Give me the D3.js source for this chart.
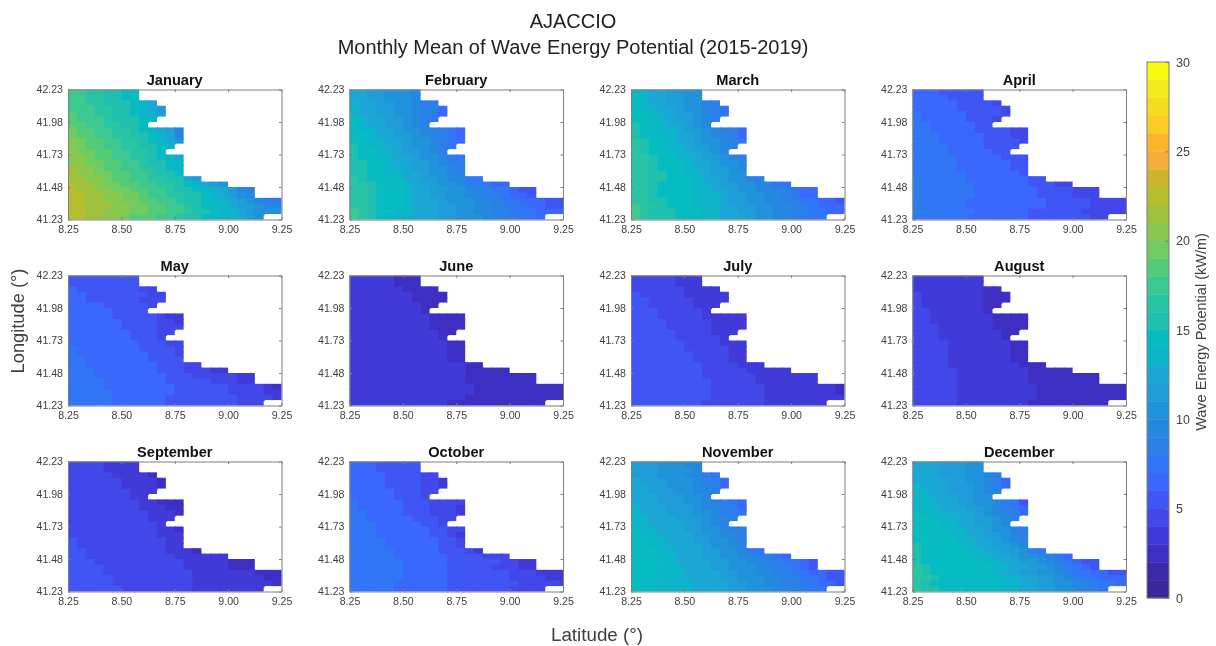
<!DOCTYPE html>
<html>
<head>
<meta charset="utf-8">
<title>AJACCIO wave energy</title>
<script src="https://cdnjs.cloudflare.com/ajax/libs/d3/7.8.5/d3.min.js"></script>
<style>
  html, body { margin: 0; padding: 0; background: #fff; }
  svg { display: block; filter: blur(0.4px); }
  text { font-family: "Liberation Sans", Arial, sans-serif; }
  .tick line, .domain { stroke: #7f7f7f; }
  .tick text { fill: #404040; font-size: 10.6px; }
</style>
</head>
<body>
<svg id="chart" width="1216" height="646"></svg>
<script>
var monthNames = ["January","February","March","April","May","June","July","August","September","October","November","December"];
var lonTicks = [8.25, 8.50, 8.75, 9.00, 9.25];
var latTicks = [41.23, 41.48, 41.73, 41.98, 42.23];
var barTicks = [0, 5, 10, 15, 20, 25, 30];

// 30 colourbar bands, 1 kW/m each from bottom to top
var bandColors = ["#3a289a","#3b29aa","#3e2fc4","#403ad8","#4147e8","#3f56f4","#3a68fc","#3076f6","#2b7fe8","#2488e0",
  "#2192dc","#1f9dd8","#1ba7d6","#0cb4c8","#06bcc0","#1fc0b0","#28c4a4","#3cc890","#52cc78","#70cc60",
  "#88c850","#a0c13c","#b6bd2e","#ccb52c","#f5ae3e","#fcb52a","#fbcb28","#f5dc20","#f3ea1c","#f8fa10"];

// each string is one row of cells, north to south, west to east.
// one base-36 character per cell = band in kW/m. row ends where the land starts.
var january = ["hhggffee","hhggffee","hhggfffedc","hhhggffedcb","ihhggffeddb","ihhhgfffed","iihhggffe","jiihhggfedcb9","jiihhggffedc9","kjiihhggfedca","kjiihhggffed","kjjiihhggfe","kkjiihhggfedc","kkjjiihhgffed","lkkjiihhggfed","lkkjjiihhgffe","llkkjiihhggffcb","mllkjjiihhggfedcba","mllkkjjiihhgffeddcb98","mmllkkjjihhggffedcba9","mmllkkjjiihhgffeddcba987","mmlllkkjjiihhgfeedcbba99","mmllkkkjjiihhgffeddcbaaa","mmllkkjiiihhgffeeddcba"];
var february = ["ccbbaaa9","ccbbaaa9","dccbbaa988","dccbbaa9886","dccbbaa9886","edccbba987","edccbba98","eddccbaa98876","eedccbba99876","eeddccbaa9876","feddccbaa987","feeddcbba98","feeddccbaa987","ffeedccbba988","ffeeddcbbaa98","ffeeddccbaa98","gfeeedccbba9977","ggfeeedccbaa988766","ggfeeedccbbaa98877655","ggfeeedccbbaa99887665","ggfeeedcccbaaa9987766655","ggfeeedcccbbaa9988776655","hgfeeddcccbbaa9988777666","hgfeeddcccbbaaa9988776"];
var march = ["ddccbbaa","edccbbaa","edccbbaa88","eddccbaa987","eedccbba987","eeddcbba98","feedccba9","feeddcbba9886","feeddccba9986","gfeedccbaa987","gfeeddcbba98","gfeeedccba9","ggfeeddcbba98","ggfeeedccbaa9","ggfeeedccbba9","ggffeeddcbbaa","ggffeeedccbaa88","ggfeeeeddcbbaa9877","ggfeeeeddccbaa9988766","ggfeeeedddcbbaa998766","ggffeeedddcbbaa998877665","hggfeeedddccbbaa99887666","hgfffeeeddccbbaa99887766","hgfffeeeddcccbaa998877"];
var april = ["66655555","66665555","6666655554","66666555554","76666655554","7666665554","776666655","7766666555544","7776666655544","7776666655554","777766665555","77776666655","7777766666555","7777766666655","7777766666655","7777776666665","877777666666655","877777766666655544","877777766666665555444","877777766666665555444","877777666666666555554444","877777666666666555554444","887777766666655555544444","7777776666666555555544"];
var may = ["55555555","55555555","6555555544","66555555544","66555555444","6666555554","666665555","6666655555433","6666665555443","6666665555444","666666655544","66666665554","6666666655544","7666666655554","7666666665554","7766666665555","776666666655544","777666666655544433","777666666665554444433","777766666665555544433","777766666666555555444432","777776666666555555444433","777776666665555555544443","7777766666655555555444"];
var june = ["33333222","33333222","3333332222","33333332222","33333332222","3333333322","333333332","3333333332222","3333333332222","3333333332222","333333333322","33333333332","3333333333322","3333333333322","3333333333322","3333333333322","333333333333322","333333333333322222","333333333333322222222","333333333333322222222","333333333333332222222222","333333333333332222222222","333333333333322222222222","3333333333322222222222"];
var july = ["44444333","44444333","4444443333","54444433333","55444443333","5544444333","555444443","5554444433333","5555444443333","5555444443333","555554444333","55555444443","5555554444333","5555554444433","5555555444433","5555555444433","555555554444333","555555554444433333","555555554444443333333","555555555444443333333","555555555444444333333332","555555555444444333333332","555555555444444333333333","5555555544444443333333"];
var august = ["33333333","33333333","3333333322","43333333222","43333333222","4333333322","443333332","4433333332222","4433333332222","4443333332222","444333333322","44433333332","4444333333322","4444333333322","4444333333322","4444333333322","444433333333222","444443333333322222","444443333333322222222","444443333333322222222","444443333333332222222222","444443333333332222222222","444443333333332222222222","4444433333333222222222"];
var september = ["44443333","44443333","4444433332","44444433332","44444433332","4444444333","444444433","4444444433222","4444444433322","4444444443332","444444444333","44444444443","4444444444332","4444444444333","5444444444433","5444444444433","554444444443332","554444444444333333","555444444444433333222","555544444444433333222","555544444444443333333222","555554444444443333333322","555554444444443333333332","5555554444444433333333"];
var october = ["66655555","66655555","6666555544","66665555443","66665555443","6666655544","666665554","7666665554444","7666665554443","7766665554443","776666655544","77766666554","7776666665544","7776666665543","7777666666554","7777666666554","777776666655543","777776666665555444","777777666665555554433","777777666665555544433","777777666665555555444333","777777666665555555444433","777776666665555555544444","7777766666655555554444"];
var november = ["bbbaaa99","bbbaaaa9","bbbaaa9987","cbbbaaa9886","ccbbaaa9886","ccbbbaa998","cccbbbaa9","cccbbbaa98876","dcccbbba99886","dcccbbbaa9887","ddcccbbba998","ddccccbba98","eddcccbbaa988","eddccccbba998","eeddcccbbaa98","eeddccccbaa99","eeeddcccbbaa977","eeeddcccbbaa998876","eeeddccccbbaa99887765","eeedddcccbbaaa9988765","eeedddccccbbaa9988776655","eeedddccccbbaaa998877655","eeeddddccccbbaa998877665","eeeddddccccbbaaa998877"];
var december = ["cccbbbaa","cccbbbaa","cccbbbaa98","ccccbbaa986","dcccbbba986","ddccbbba98","ddcccbbaa","dddccbbaa9875","dddcccbba9876","edddcccba9986","eedddccbba98","eeeddccbba9","eeedddccbaa88","eeeeddccbba98","eeeeeddccba98","feeeeddccbba9","feeeeeddccbba87","feeeeeeddccbaa9876","feeeeeeeddccbba987655","gfeeeeeeeddccbba98765","gfeeeeeeedccbbaa98776655","ggfeeeeeeeddccbba9877666","gfeeeeeeeeddccbbaa998776","gffeeeeeeeddccbbaa9887"];

var monthRows = [january, february, march, april, may, june, july, august, september, october, november, december];

var svg = d3.select("#chart");

var panelLefts = [68, 349.5, 631, 912.5];
var panelTops = [89.5, 275.5, 461.5];
var panelW = 213.5, panelH = 130;
var cellDeg = 1 / 24;

var color = d3.scaleQuantize().domain([0, 30]).range(bandColors);

monthNames.forEach(function(name, m) {
  var left = panelLefts[m % 4], top = panelTops[Math.floor(m / 4)];

  var x = d3.scaleLinear().domain([8.25, 9.25]).range([left, left + panelW]);
  var y = d3.scaleLinear().domain([41.23, 42.23]).range([top + panelH, top]);

  // flatten the row strings into cells
  var rows = monthRows[m], cells = [];
  rows.forEach(function(row, r) {
    row.split("").forEach(function(c, i) {
      cells.push({
        lon: 8.25 + i * cellDeg,
        lat: 42.23 - r * cellDeg,
        value: parseInt(c, 36) + 0.5,
        hasEast: i < row.length - 1,
        hasSouth: r < rows.length - 1 && i < rows[r + 1].length
      });
    });
  });

  var g = svg.append("g").attr("class", "panel");

  // cells run a bit under their east and south neighbours so no seams show
  g.selectAll("rect.cell")
    .data(cells)
    .enter()
    .append("rect")
    .attr("class", "cell")
    .attr("x", function(d) { return x(d.lon); })
    .attr("y", function(d) { return y(d.lat); })
    .attr("width", function(d) { return x(d.lon + cellDeg) - x(d.lon) + (d.hasEast ? 1 : 0); })
    .attr("height", function(d) { return y(d.lat - cellDeg) - y(d.lat) + (d.hasSouth ? 1 : 0); })
    .attr("fill", function(d) { return color(d.value); });

  // box with inward ticks on all four sides, labels only left and bottom
  g.append("g")
    .attr("transform", "translate(0," + (top + panelH) + ")")
    .call(d3.axisBottom(x).tickValues(lonTicks).tickFormat(d3.format(".2f")).tickSizeInner(-2.5).tickSizeOuter(0).tickPadding(6));
  g.append("g")
    .attr("transform", "translate(" + left + ",0)")
    .call(d3.axisLeft(y).tickValues(latTicks).tickFormat(d3.format(".2f")).tickSizeInner(-2.5).tickSizeOuter(0).tickPadding(5));
  g.append("g")
    .attr("transform", "translate(0," + top + ")")
    .call(d3.axisTop(x).tickValues(lonTicks).tickFormat("").tickSizeInner(-2.5).tickSizeOuter(0));
  g.append("g")
    .attr("transform", "translate(" + (left + panelW) + ",0)")
    .call(d3.axisRight(y).tickValues(latTicks).tickFormat("").tickSizeInner(-2.5).tickSizeOuter(0));

  g.append("text")
    .attr("x", left + panelW / 2)
    .attr("y", top - 5)
    .attr("text-anchor", "middle")
    .style("font-size", "14.6px")
    .style("font-weight", "bold")
    .style("fill", "#111")
    .text(name);
});

// titles
svg.append("text").attr("x", 573).attr("y", 28).attr("text-anchor", "middle")
  .style("font-size", "20px").style("fill", "#222").text("AJACCIO");
svg.append("text").attr("x", 573).attr("y", 54).attr("text-anchor", "middle")
  .style("font-size", "20px").style("fill", "#222").text("Monthly Mean of Wave Energy Potential (2015-2019)");

svg.append("text").attr("x", 597).attr("y", 641).attr("text-anchor", "middle")
  .style("font-size", "18.8px").style("fill", "#404040").text("Latitude (°)");
svg.append("text").attr("transform", "translate(24,321) rotate(-90)").attr("text-anchor", "middle")
  .style("font-size", "18.3px").style("fill", "#404040").text("Longitude (°)");

// colourbar
var barLeft = 1147, barW = 22;
var barScale = d3.scaleLinear().domain([0, 30]).range([598, 62]);
var bar = svg.append("g").attr("class", "colorbar");

bar.selectAll("rect")
  .data(bandColors)
  .enter()
  .append("rect")
  .attr("x", barLeft)
  .attr("y", function(d, i) { return barScale(i + 1); })
  .attr("width", barW)
  .attr("height", function(d, i) { return barScale(i) - barScale(i + 1) + 0.4; })
  .attr("fill", function(d) { return d; });

bar.append("rect")
  .attr("x", barLeft).attr("y", barScale(30))
  .attr("width", barW).attr("height", barScale(0) - barScale(30))
  .attr("fill", "none").attr("stroke", "#7f7f7f");

bar.append("g")
  .attr("transform", "translate(" + (barLeft + barW) + ",0)")
  .call(d3.axisRight(barScale).tickValues(barTicks).tickSize(-4).tickPadding(7).tickFormat(d3.format("d")))
  .call(function(g) { g.select(".domain").remove(); })
  .selectAll("text").style("font-size", "12.5px");

svg.append("text").attr("transform", "translate(1206,332) rotate(-90)").attr("text-anchor", "middle")
  .style("font-size", "14.5px").style("fill", "#404040").text("Wave Energy Potential (kW/m)");
</script>
</body>
</html>
